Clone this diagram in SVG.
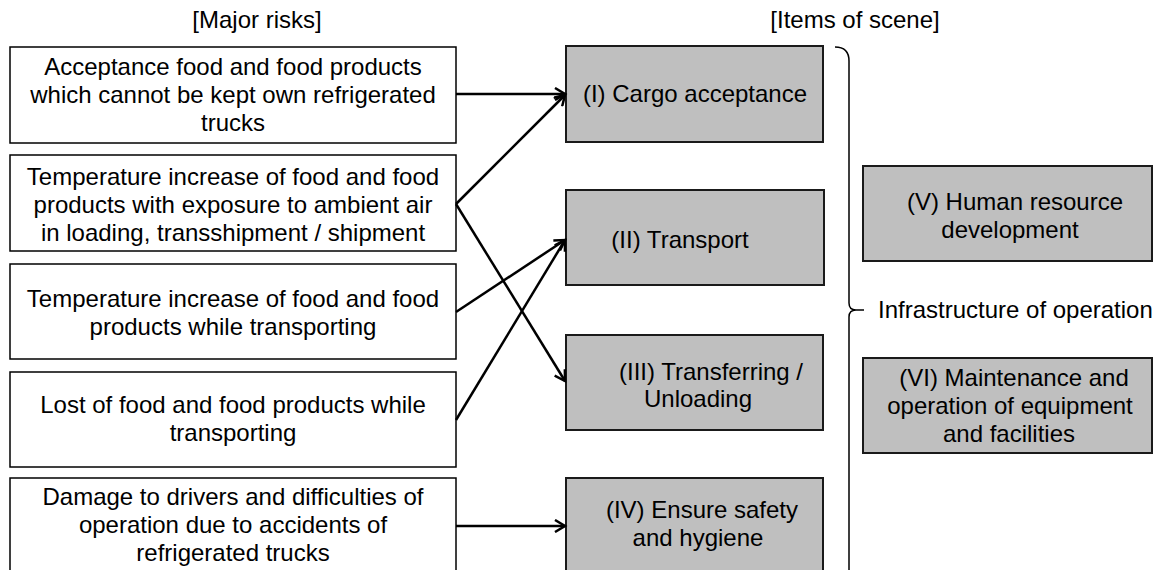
<svg xmlns="http://www.w3.org/2000/svg" width="1161" height="570" viewBox="0 0 1161 570">
<style>
text{font-family:"Liberation Sans",Arial,sans-serif;font-size:24px;fill:#000}
.c{text-anchor:middle}
.risk{fill:#fff;stroke:#000;stroke-width:1.5}
.item{fill:#bfbfbf;stroke:#1a1a1a;stroke-width:2}
.arr{fill:none;stroke:#000;stroke-width:2.5;marker-end:url(#ah)}
.br{fill:none;stroke:#000;stroke-width:1.5}
</style>
<defs>
<marker id="ah" markerWidth="14" markerHeight="14" refX="11" refY="7" orient="auto" markerUnits="userSpaceOnUse">
<path d="M1,1 L11,7 L1,13" fill="none" stroke="#000" stroke-width="2.5"/>
</marker>
</defs>
<text class="c" x="257" y="28">[Major risks]</text>
<text class="c" x="855" y="28">[Items of scene]</text>
<g id="risk1"><rect class="risk" x="10" y="47" width="446" height="96"/>
<text class="c" x="233" y="75">Acceptance food and food products</text>
<text class="c" x="233" y="103">which cannot be kept own refrigerated</text>
<text class="c" x="233" y="131">trucks</text></g>
<g id="risk2"><rect class="risk" x="10" y="155" width="446" height="96"/>
<text class="c" x="233" y="185">Temperature increase of food and food</text>
<text class="c" x="233" y="213">products with exposure to ambient air</text>
<text class="c" x="233" y="241">in loading, transshipment / shipment</text></g>
<g id="risk3"><rect class="risk" x="10" y="264" width="446" height="95"/>
<text class="c" x="233" y="307">Temperature increase of food and food</text>
<text class="c" x="233" y="335">products while transporting</text></g>
<g id="risk4"><rect class="risk" x="10" y="372" width="446" height="95"/>
<text class="c" x="233" y="413">Lost of food and food products while</text>
<text class="c" x="233" y="441">transporting</text></g>
<g id="risk5"><rect class="risk" x="10" y="478" width="446" height="100"/>
<text class="c" x="233" y="505">Damage to drivers and difficulties of</text>
<text class="c" x="233" y="533">operation due to accidents of</text>
<text class="c" x="233" y="561">refrigerated trucks</text></g>
<g id="item1"><rect class="item" x="566" y="46" width="257" height="96"/>
<text class="c" x="695" y="102">(I) Cargo acceptance</text></g>
<g id="item2"><rect class="item" x="566" y="190" width="258" height="95"/>
<text class="c" x="680" y="248">(II) Transport</text></g>
<g id="item3"><rect class="item" x="566" y="335" width="257" height="95"/>
<text class="c" x="711" y="380">(III) Transferring /</text>
<text class="c" x="698" y="407">Unloading</text></g>
<g id="item4"><rect class="item" x="566" y="478" width="257" height="100"/>
<text class="c" x="702" y="518">(IV) Ensure safety</text>
<text class="c" x="698" y="546">and hygiene</text></g>
<g id="item5"><rect class="item" x="863" y="166" width="289" height="95"/>
<text class="c" x="1015" y="210">(V) Human resource</text>
<text class="c" x="1010" y="238">development</text></g>
<g id="item6"><rect class="item" x="863" y="358" width="289" height="95"/>
<text class="c" x="1014" y="386">(VI) Maintenance and</text>
<text class="c" x="1010" y="414">operation of equipment</text>
<text class="c" x="1009" y="442">and facilities</text></g>
<g id="infra"><path class="br" d="M835,47 Q849,47 849,61 V303 Q849,310 856,310 H864 M856,310 Q849,310 849,317 V575"/>
<text x="878" y="318">Infrastructure of operation</text></g>
<g id="connectors">
<line class="arr" x1="456" y1="94" x2="565" y2="94"/>
<line class="arr" x1="456" y1="204" x2="565" y2="95"/>
<line class="arr" x1="456" y1="204" x2="565" y2="381"/>
<line class="arr" x1="456" y1="312" x2="565" y2="240"/>
<line class="arr" x1="456" y1="420" x2="565" y2="240"/>
<line class="arr" x1="456" y1="526" x2="565" y2="526"/>
</g>
</svg>
